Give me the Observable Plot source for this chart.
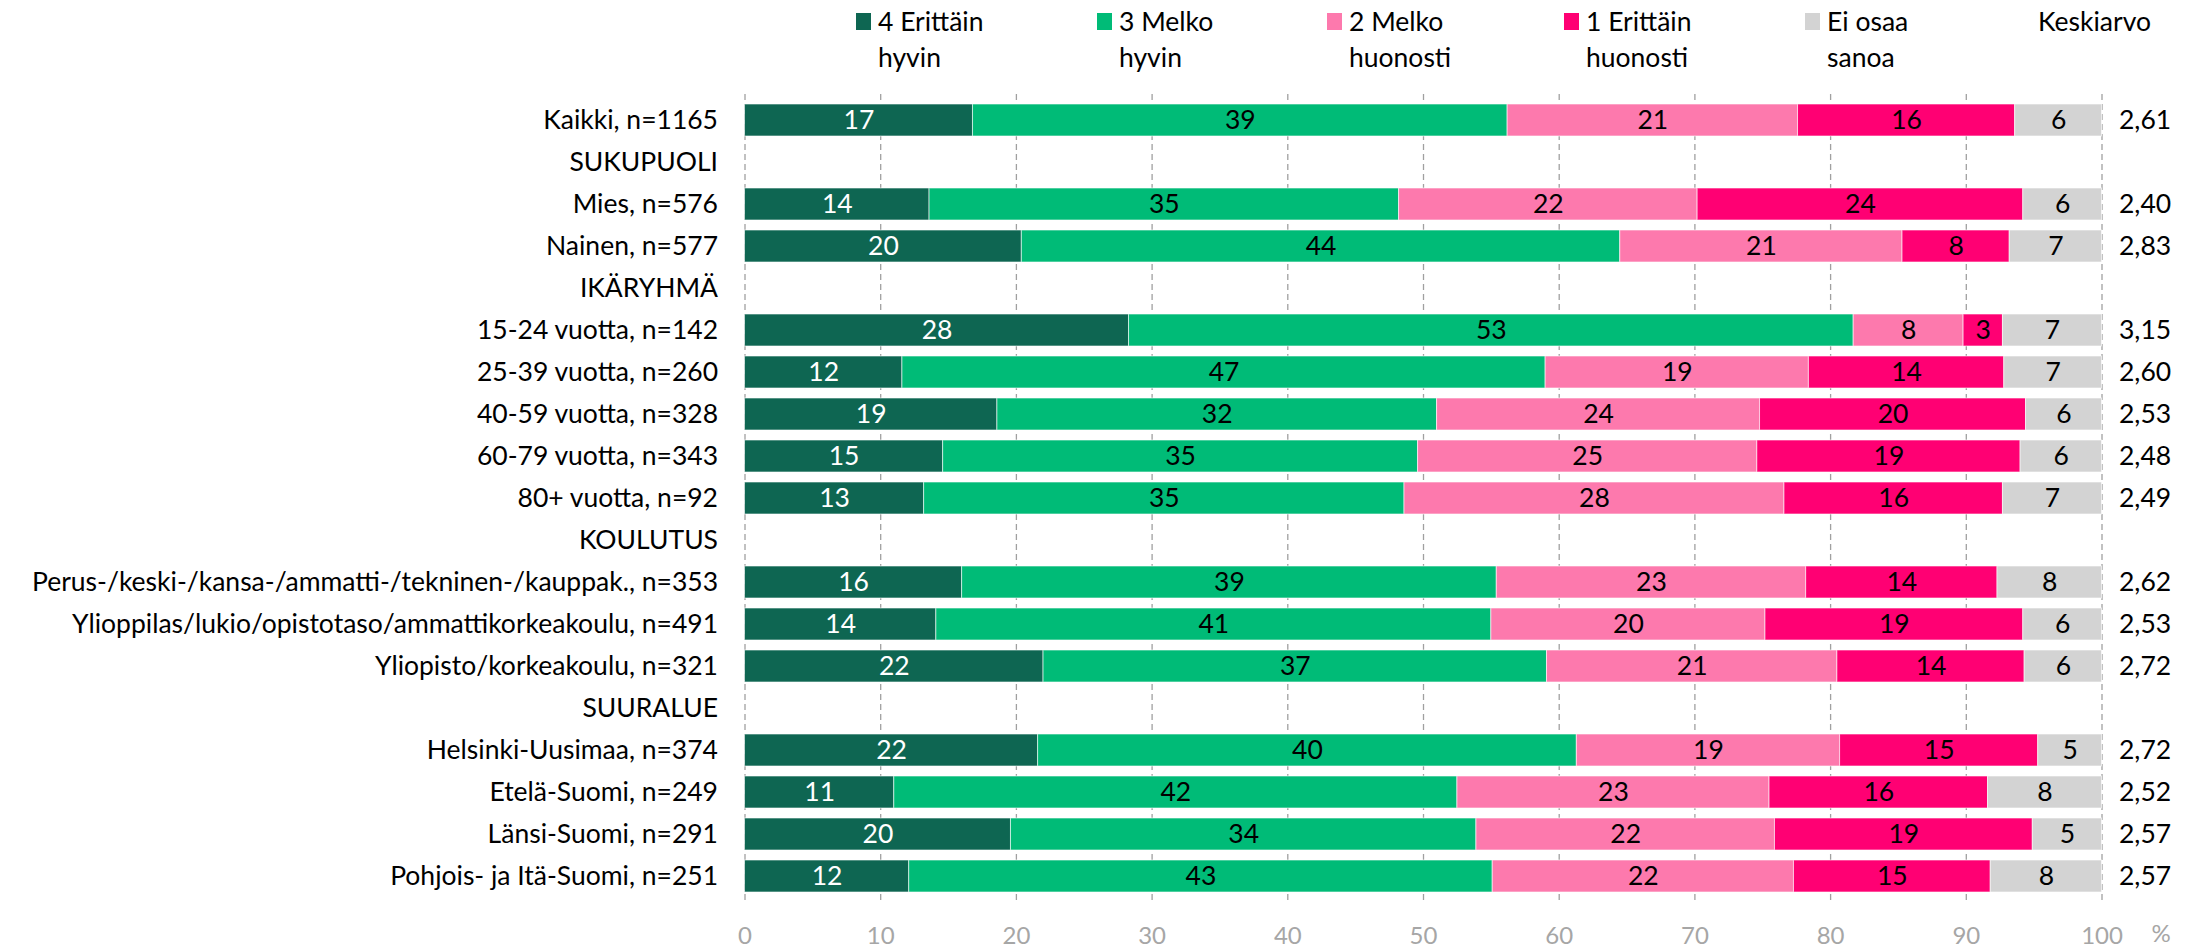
<!DOCTYPE html>
<html>
<head>
<meta charset="utf-8">
<script src="https://cdn.jsdelivr.net/npm/d3@7"></script>
<script src="https://cdn.jsdelivr.net/npm/@observablehq/plot@0.6"></script>
<style>
  html, body { margin: 0; padding: 0; background: #fff; }
  body { width: 2194px; height: 948px; overflow: hidden; font-family: Lato, "Open Sans", sans-serif; }
  #legend { position: relative; height: 80px; font-size: 26.5px; color: #000; }
  #legend .sw { position: absolute; top: 13px; width: 15px; height: 17px; }
  #legend .lb { position: absolute; top: 3px; line-height: 36px; white-space: nowrap; }
</style>
</head>
<body>
<div id="legend"></div>
<div id="chart"></div>
<script>
// Categories (rows, top to bottom); section headers have no bars
const categories = [
  "Kaikki, n=1165",
  "SUKUPUOLI",
  "Mies, n=576",
  "Nainen, n=577",
  "IKÄRYHMÄ",
  "15-24 vuotta, n=142",
  "25-39 vuotta, n=260",
  "40-59 vuotta, n=328",
  "60-79 vuotta, n=343",
  "80+ vuotta, n=92",
  "KOULUTUS",
  "Perus-/keski-/kansa-/ammatti-/tekninen-/kauppak., n=353",
  "Ylioppilas/lukio/opistotaso/ammattikorkeakoulu, n=491",
  "Yliopisto/korkeakoulu, n=321",
  "SUURALUE",
  "Helsinki-Uusimaa, n=374",
  "Etelä-Suomi, n=249",
  "Länsi-Suomi, n=291",
  "Pohjois- ja Itä-Suomi, n=251"
];
const headers = ["SUKUPUOLI", "IKÄRYHMÄ", "KOULUTUS", "SUURALUE"];

// Series
const seriesNames = ["4 Erittäin hyvin", "3 Melko hyvin", "2 Melko huonosti", "1 Erittäin huonosti", "Ei osaa sanoa"];
const seriesLines = [["4 Erittäin", "hyvin"], ["3 Melko", "hyvin"], ["2 Melko", "huonosti"], ["1 Erittäin", "huonosti"], ["Ei osaa", "sanoa"]];
const seriesColors = ["#0e6652", "#00bb77", "#fd79ad", "#ff0073", "#d3d3d3"];

// Values per series, in the order of the bar rows (headers excluded)
const barRows = categories.filter(c => !headers.includes(c));
const s4 = [16.8, 13.6, 20.4, 28.3, 11.6, 18.6, 14.6, 13.2, 16.0, 14.1, 22.0, 21.6, 11.0, 19.6, 12.1];
const s3 = [39.4, 34.6, 44.1, 53.4, 47.4, 32.4, 35.0, 35.4, 39.4, 40.9, 37.1, 39.7, 41.5, 34.3, 43.0];
const s2 = [21.4, 22.0, 20.8, 8.1, 19.4, 23.8, 25.0, 28.0, 22.8, 20.2, 21.4, 19.4, 23.0, 22.0, 22.2];
const s1 = [16.0, 24.0, 7.9, 2.9, 14.4, 19.6, 19.4, 16.1, 14.1, 19.0, 13.8, 14.6, 16.1, 19.0, 14.5];
const sEOS = [6.4, 5.8, 6.8, 7.3, 7.2, 5.6, 6.0, 7.3, 7.7, 5.8, 5.7, 4.7, 8.4, 5.1, 8.2];
const keskiarvo = ["2,61", "2,40", "2,83", "3,15", "2,60", "2,53", "2,48", "2,49", "2,62", "2,53", "2,72", "2,72", "2,52", "2,57", "2,57"];

const xTicks = [0, 10, 20, 30, 40, 50, 60, 70, 80, 90, 100];

const seriesValues = [s4, s3, s2, s1, sEOS];
const data = [];
barRows.forEach((cat, i) => {
  seriesNames.forEach((s, j) => data.push({cat, series: s, value: seriesValues[j][i]}));
});
const means = barRows.map((cat, i) => ({cat, text: keskiarvo[i]}));

// Legend (HTML above the SVG)
const legend = document.getElementById("legend");
const swX = [856, 1097, 1327, 1564, 1805];
seriesNames.forEach((s, j) => {
  const sw = document.createElement("div");
  sw.className = "sw";
  sw.style.left = swX[j] + "px";
  sw.style.background = seriesColors[j];
  legend.appendChild(sw);
  const lb = document.createElement("div");
  lb.className = "lb";
  lb.style.left = (swX[j] + 22) + "px";
  lb.innerHTML = seriesLines[j][0] + "<br>" + seriesLines[j][1];
  legend.appendChild(lb);
});
const kk = document.createElement("div");
kk.className = "lb";
kk.style.left = "2038px";
kk.textContent = "Keskiarvo";
legend.appendChild(kk);

const FS = 26.5;
const chart = Plot.plot({
  width: 2194,
  height: 868,
  marginLeft: 744.5,
  marginRight: 92.5,
  marginTop: 14,
  marginBottom: 46,
  style: {fontFamily: "Lato, 'Open Sans', sans-serif", fontSize: FS + "px", background: "#fff", color: "#000"},
  x: {domain: [0, 100]},
  y: {domain: categories, paddingInner: 0.245, paddingOuter: 0.1},
  color: {domain: seriesNames, range: seriesColors},
  marks: [
    Plot.ruleX(xTicks, {stroke: "#a0a0a0", strokeWidth: 1.3, strokeDasharray: "6,4"}),
    Plot.barX(data, {y: "cat", x: "value", fill: "series", stroke: "white", strokeWidth: 1, strokeOpacity: 0.6}),
    Plot.text(data, Plot.stackX({
      y: "cat", x: "value", z: "series",
      text: d => Math.round(d.value),
      fill: d => d.series === seriesNames[0] ? "white" : "black",
      fontSize: FS
    })),
    Plot.text(means, {y: "cat", text: "text", frameAnchor: "right", textAnchor: "start", dx: 17, fontSize: FS, fill: "black"}),
    Plot.axisY({tickSize: 0, tickPadding: 27, label: null, fontSize: FS, fill: "black"}),
    Plot.axisX({ticks: xTicks, tickSize: 0, tickPadding: 24, label: null, fontSize: 24, fill: "#a6a6a6"}),
    Plot.text(["%"], {frameAnchor: "bottom-right", textAnchor: "middle", lineAnchor: "middle", dx: 59, dy: 32, fill: "#a6a6a6", fontSize: 24})
  ]
});
document.getElementById("chart").appendChild(chart);
</script>
</body>
</html>
